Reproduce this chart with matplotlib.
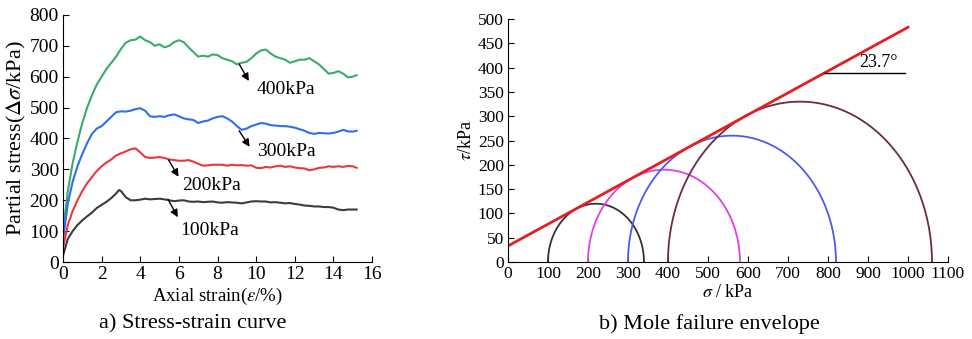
import numpy as np
import matplotlib.pyplot as plt

plt.rcParams['font.family'] = ['Liberation Serif', 'DejaVu Serif']
plt.rcParams['mathtext.fontset'] = 'stix'

# ---- a) stress-strain data (read off the figure) ----
strain = [0, 0.25, 0.5, 0.75, 1, 1.25, 1.5, 1.75, 2, 2.25, 2.5, 2.75, 3, 3.25, 3.5, 3.75,
          4, 4.25, 4.5, 4.75, 5, 5.25, 5.5, 5.75, 6, 6.25, 6.5, 6.75, 7, 7.25, 7.5, 7.75,
          8, 8.25, 8.5, 8.75, 9, 9.25, 9.5, 9.75, 10, 10.25, 10.5, 10.75, 11, 11.25, 11.5, 11.75,
          12, 12.25, 12.5, 12.75, 13, 13.25, 13.5, 13.75, 14, 14.25, 14.5, 14.75, 15, 15.2]

s400 = [100, 230, 320, 390, 450, 500, 540, 575, 600, 625, 645, 665, 690, 710, 718, 720,
        730, 718, 712, 700, 705, 695, 700, 712, 718, 712, 695, 680, 665, 668, 665, 672,
        670, 660, 655, 650, 640, 645, 648, 660, 675, 685, 688, 675, 665, 660, 655, 645,
        650, 655, 655, 660, 650, 640, 625, 610, 612, 618, 610, 598, 600, 605]

s300 = [70, 190, 260, 310, 350, 385, 415, 432, 440, 455, 470, 485, 488, 487, 490, 495,
        498, 490, 472, 470, 472, 470, 475, 478, 472, 465, 462, 460, 450, 455, 458, 465,
        470, 472, 465, 455, 440, 428, 432, 440, 445, 450, 448, 443, 442, 440, 440, 438,
        435, 430, 425, 418, 415, 418, 417, 416, 418, 422, 428, 423, 422, 425]

s200 = [45, 120, 165, 200, 230, 255, 275, 295, 310, 322, 332, 345, 352, 358, 365, 368,
        355, 340, 337, 338, 340, 337, 332, 330, 328, 328, 330, 325, 318, 312, 313, 315,
        315, 315, 312, 315, 313, 314, 312, 313, 305, 304, 308, 306, 310, 312, 308, 310,
        306, 304, 303, 297, 300, 305, 306, 310, 308, 310, 308, 311, 310, 305]

s100 = [20, 75, 100, 120, 135, 148, 160, 175, 185, 195, 207, 222, 230, 210, 200, 200,
        202, 205, 203, 204, 205, 203, 200, 197, 199, 200, 196, 195, 196, 194, 195, 196,
        193, 192, 194, 193, 192, 190, 193, 196, 197, 196, 196, 193, 194, 192, 190, 191,
        188, 186, 183, 182, 180, 180, 178, 178, 176, 170, 168, 170, 170, 170]

peak100 = (2.9, 233)

labels_a = ['400kPa', '300kPa', '200kPa', '100kPa']
arrow_start = [(9.12, 641), (9.12, 425), (5.47, 330), (5.44, 203)]
arrow_end = [(9.62, 586), (9.66, 373), (5.98, 276), (5.94, 145)]
label_pos = [(10.0, 557), (10.05, 357), (6.18, 249), (6.08, 103)]

# ---- b) Mohr circles ----
sigma3 = [100, 200, 300, 400]
sigma1 = [340, 580, 820, 1060]
circle_colors = ['#333333', '#e040e8', '#4a5cf0', '#6a2a4a']
env_x = [0, 1000]
env_y = [33, 483]
angle_text = '23.7°'

fig = plt.figure(figsize=(9.72, 3.39), dpi=100)
ax1 = fig.add_axes([0.0648, 0.227, 0.318, 0.729])
ax2 = fig.add_axes([0.5226, 0.227, 0.4527, 0.717])

x_a = list(strain)
i = x_a.index(3)
x100 = x_a[:i] + [peak100[0]] + x_a[i:]
y100 = s100[:i] + [peak100[1]] + s100[i:]

ax1.plot(strain, s400, color='#3aaa6e', lw=1.5)
ax1.plot(strain, s300, color='#2f6fe8', lw=1.5)
ax1.plot(strain, s200, color='#e8383c', lw=1.5)
ax1.plot(x100, y100, color='#3c3c3c', lw=1.5)

for lab, st, en, lp in zip(labels_a, arrow_start, arrow_end, label_pos):
    ax1.annotate('', xy=en, xytext=st,
                 arrowprops=dict(arrowstyle='-|>', color='black', lw=1.0,
                                 mutation_scale=11, shrinkA=0, shrinkB=0))
    ax1.text(lp[0], lp[1], lab, fontsize=14, ha='left', va='center')

ax1.set_xlim(0, 16)
ax1.set_ylim(0, 800)
ax1.set_xticks(range(0, 17, 2))
ax1.set_yticks(range(0, 801, 100))
ax1.tick_params(direction='in', labelsize=14, length=4, pad=3)
for s in ['top', 'right']:
    ax1.spines[s].set_visible(False)
ax1.set_xlabel(r'Axial strain($\varepsilon$/%)', fontsize=13.5, labelpad=2)
ax1.set_ylabel(r'Partial stress($\Delta\sigma$/kPa)', fontsize=16, labelpad=1)

th = np.linspace(0, np.pi, 300)
for s3, s1, c in zip(sigma3, sigma1, circle_colors):
    cen = (s1 + s3) / 2
    r = (s1 - s3) / 2
    ax2.plot(cen + r * np.cos(th), r * np.sin(th), color=c, lw=1.3)
ax2.plot(env_x, env_y, color='#e61e1e', lw=2)
ax2.plot([789, 993], [388, 388], color='black', lw=1.0)
ax2.text(927, 392, angle_text, fontsize=13, ha='center', va='bottom')

ax2.set_xlim(0, 1100)
ax2.set_ylim(0, 500)
ax2.set_xticks(range(0, 1101, 100))
ax2.set_yticks(range(0, 501, 50))
ax2.tick_params(direction='in', labelsize=12.5, length=4, pad=3)
for s in ['top', 'right']:
    ax2.spines[s].set_visible(False)
ax2.set_xlabel(r'$\sigma$ / kPa', fontsize=13, labelpad=1)
ax2.set_ylabel(r'$\tau$/kPa', fontsize=13, labelpad=2)

fig.text(0.198, 0.045, 'a) Stress-strain curve', fontsize=16, ha='center', va='center')
fig.text(0.730, 0.045, 'b) Mole failure envelope', fontsize=16, ha='center', va='center')

fig.savefig('out.png', dpi=100)
